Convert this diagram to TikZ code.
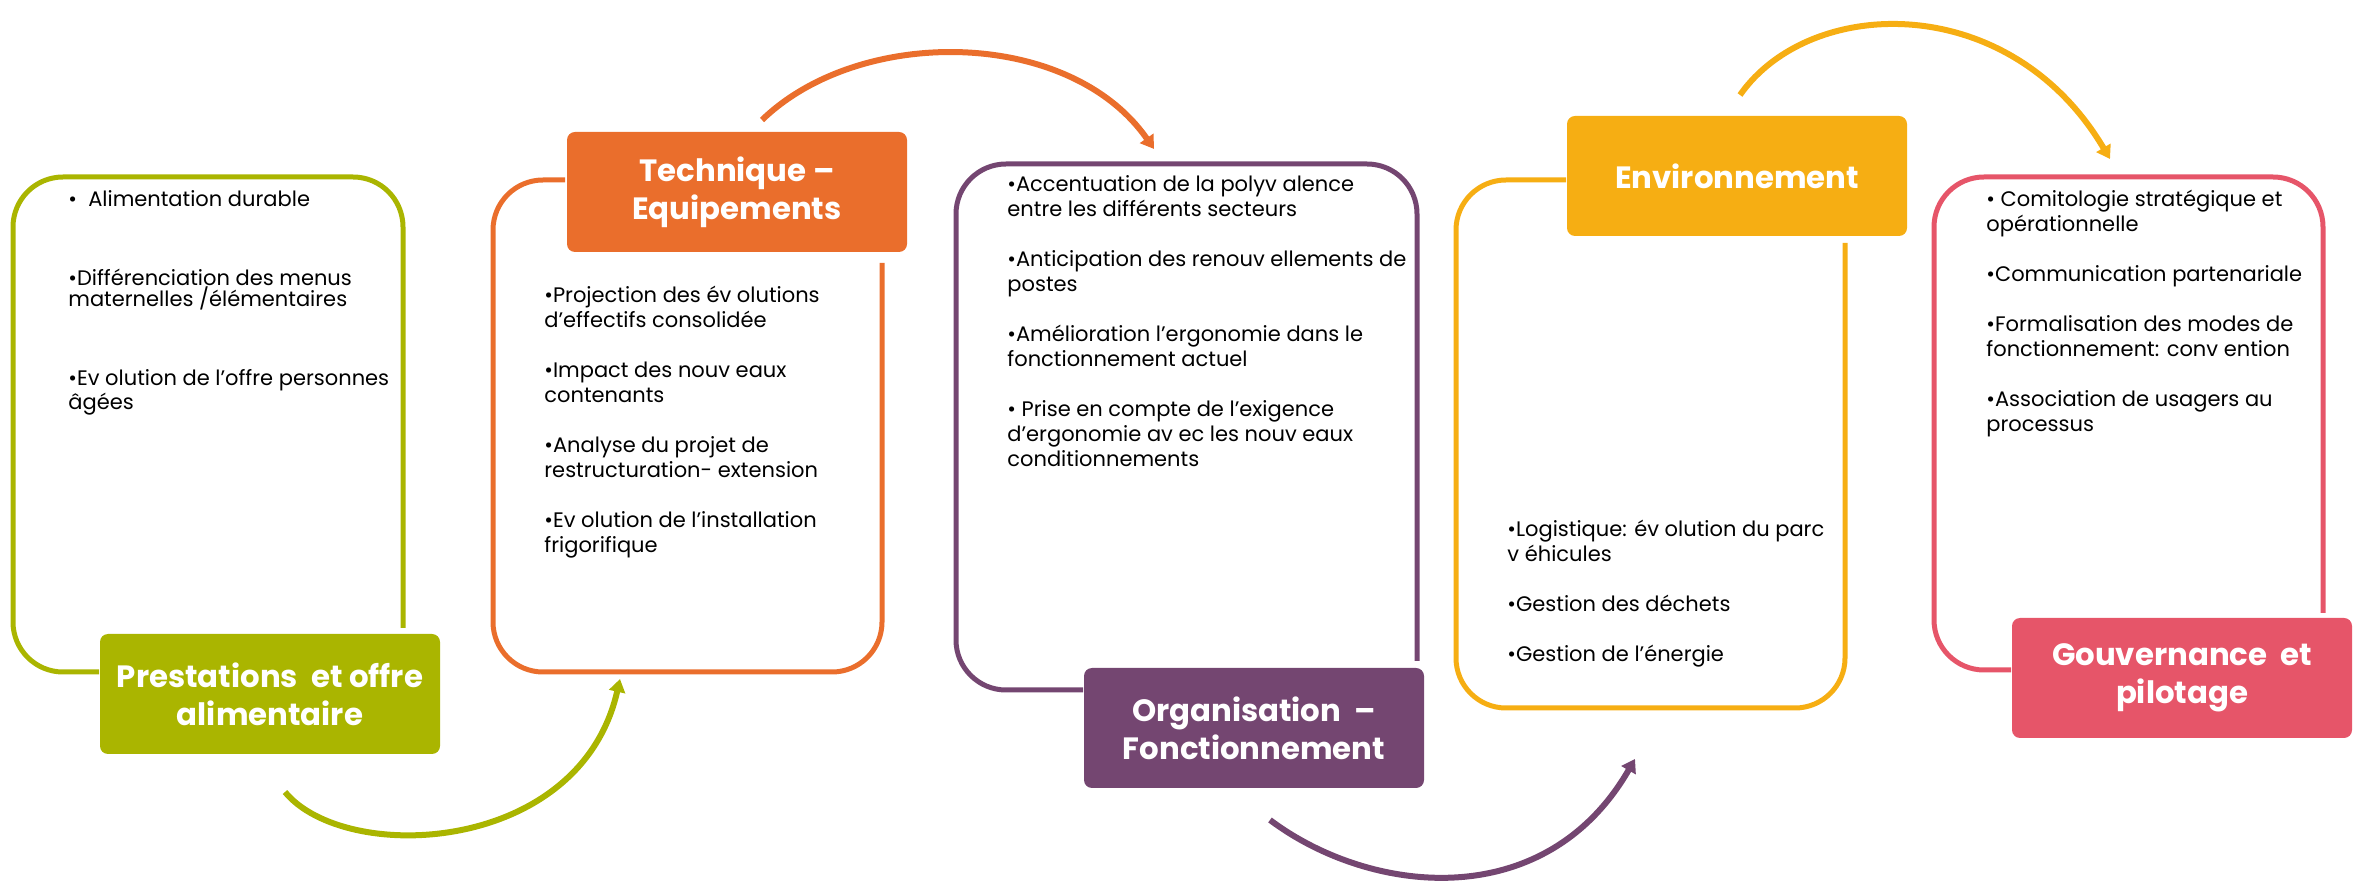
\documentclass[tikz,border=0pt]{standalone}
\usepackage{fontspec}
\setmainfont{Poppins}
\usetikzlibrary{arrows.meta}

\definecolor{prestaGreen}{RGB}{170,181,0}
\definecolor{techOrange}{RGB}{234,110,44}
\definecolor{orgaPurple}{RGB}{116,70,113}
\definecolor{envYellow}{RGB}{246,174,19}
\definecolor{gouvPink}{RGB}{230,85,105}

\begin{document}
\begin{tikzpicture}[x=0.5pt, y=-0.5pt,
	titlebox/.style={fill=#1, text=white, rounded corners=4pt, inner sep=0pt, align=center, minimum width=170pt, minimum height=60pt, font=\bfseries\fontsize{15.4}{19}\selectfont},
	itemlist/.style={anchor=north west, inner sep=0pt, align=left, font=\fontsize{10.5}{12.5}\selectfont},
	boxframe/.style={draw=#1, line width=2.5pt, rounded corners=25pt},
	cyclearrow/.style={draw=#1, line width=3pt, -{Triangle[length=6.5pt,width=8pt]}}]
	
	\useasboundingbox (0,0) rectangle (2356,886);
	
	\draw[boxframe=prestaGreen] (403,628) -- (403,177) -- (13,177) -- (13,672) -- (99,672);
	\draw[boxframe=techOrange] (565,180) -- (493,180) -- (493,672) -- (882,672) -- (882,263);
	\draw[boxframe=orgaPurple] (1417,661) -- (1417,164) -- (956,164) -- (956,690) -- (1083,690);
	\draw[boxframe=envYellow] (1566,180) -- (1456,180) -- (1456,708) -- (1845,708) -- (1845,243);
	\draw[boxframe=gouvPink] (2323,613) -- (2323,177) -- (1934,177) -- (1934,670) -- (2011,670);
	
	\node[titlebox=prestaGreen] (presta) at (270,694) {Prestations\ \ et offre\\alimentaire};
	\node[titlebox=techOrange] (tech) at (737,192) {Technique –\\Equipements};
	\node[titlebox=orgaPurple] (orga) at (1254,728) {Organisation\ \ –\\Fonctionnement};
	\node[titlebox=envYellow] (env) at (1737,176) {Environnement};
	\node[titlebox=gouvPink] (gouv) at (2182,678) {Gouvernance\ \ et\\pilotage};
	
	\node[itemlist, font=\fontsize{10.5}{10.5}\selectfont] (prestaitems) at (68,190) {•\ \ Alimentation durable\\[29pt]
		•Différenciation des menus\\maternelles /élémentaires\\[29pt]
		•Ev olution de l’offre personnes\\âgées};
	\node[itemlist] (techitems) at (544,286) {•Projection des év olutions\\d’effectifs consolidée\\[12.5pt]
		•Impact des nouv eaux\\contenants\\[12.5pt]
		•Analyse du projet de\\restructuration- extension\\[12.5pt]
		•Ev olution de l’installation\\frigorifique};
	\node[itemlist] (orgaitems) at (1007,175) {•Accentuation de la polyv alence\\entre les différents secteurs\\[12.5pt]
		•Anticipation des renouv ellements de\\postes\\[12.5pt]
		•Amélioration l’ergonomie dans le\\fonctionnement actuel\\[12.5pt]
		•\ Prise en compte de l’exigence\\d’ergonomie av ec les nouv eaux\\conditionnements};
	\node[itemlist] (envitems) at (1507,520) {•Logistique: év olution du parc\\v éhicules\\[12.5pt]
		•Gestion des déchets\\[12.5pt]
		•Gestion de l’énergie};
	\node[itemlist] (gouvitems) at (1986,190) {•\ Comitologie stratégique et\\opérationnelle\\[12.5pt]
		•Communication partenariale\\[12.5pt]
		•Formalisation des modes de\\fonctionnement: conv ention\\[12.5pt]
		•Association de usagers au\\processus};
	
	\coordinate (presta out) at (285,792);
	\coordinate (tech in) at (620,679);
	\coordinate (tech out) at (762,120);
	\coordinate (orga in) at (1154,149);
	\coordinate (orga out) at (1270,820);
	\coordinate (env in) at (1635,759);
	\coordinate (env out) at (1740,95);
	\coordinate (gouv in) at (2110,159);
	
	\draw[cyclearrow=prestaGreen] (presta out) .. controls (345,865) and (580,855) .. (tech in);
	\draw[cyclearrow=techOrange] (tech out) .. controls (860,25) and (1070,28) .. (orga in);
	\draw[cyclearrow=orgaPurple] (orga out) .. controls (1370,895) and (1545,915) .. (env in);
	\draw[cyclearrow=envYellow] (env out) .. controls (1810,-5) and (2010,-10) .. (gouv in);
	
\end{tikzpicture}
\end{document}
